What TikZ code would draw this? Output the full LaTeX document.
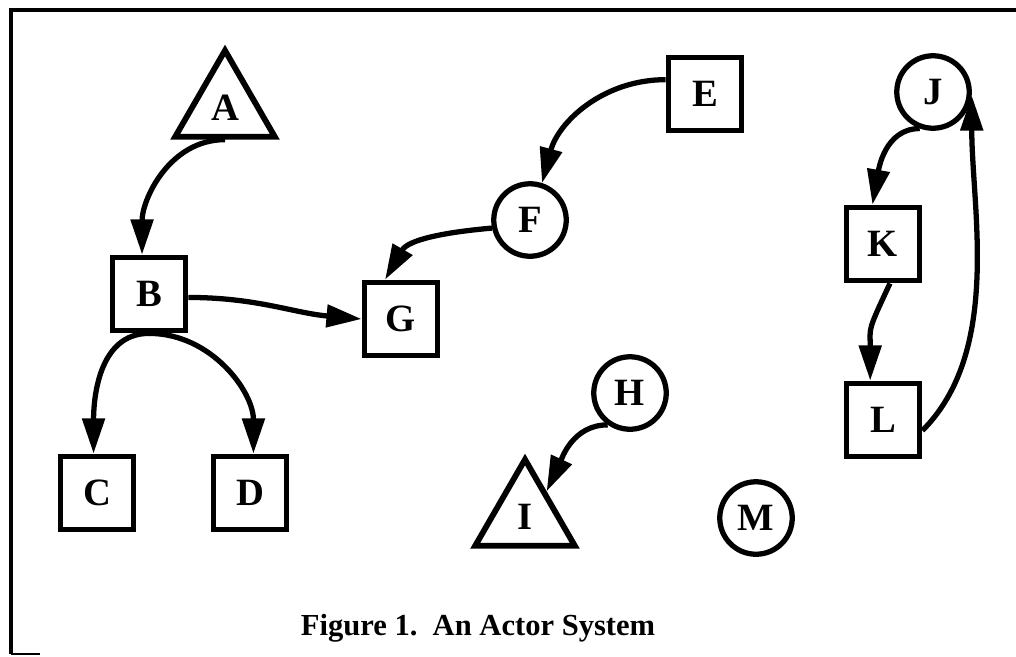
\documentclass[tikz,border=0pt]{standalone}
\usepackage{fontspec}
\setmainfont{Liberation Serif}
\usetikzlibrary{shapes.geometric,arrows.meta}
\begin{document}
\begin{tikzpicture}[x=0.02cm,y=-0.02cm,
  actor/.style={draw, line width=3.3pt, inner sep=0pt, font=\fontsize{22}{22}\selectfont\bfseries},
  box/.style={actor, rectangle, minimum size=1.46cm},
  ball/.style={actor, circle, minimum size=1.45cm, line width=3pt},
  tri/.style={actor, regular polygon, regular polygon sides=3, minimum size=2.3cm},
  msg/.style={line width=3pt, -{Triangle[length=20pt,width=12.5pt]}}]
\useasboundingbox (0,0) rectangle (1016,656);
\draw[line width=2pt] (11,654) -- (11,10) -- (1016,10);
\draw[line width=1.5pt] (11,654) -- (40,654);
\node[tri] (A) at (225,108){A};
\node[box] (B) at (149,294){B};
\node[box] (C) at (97,493){C};
\node[box] (D) at (250,493){D};
\node[box] (G) at (401,319){G};
\node[box] (E) at (705,94){E};
\node[ball] (F) at (530,220){F};
\node[ball] (J) at (933,92){J};
\node[box] (K) at (883,244){K};
\node[box] (L) at (883,420){L};
\node[ball] (H) at (630,393){H};
\node[tri] (I) at (525,517){I};
\node[ball] (M) at (756,518){M};
\draw[msg](A.south) to[out=180,in=90] (B.100);
\draw[msg](B.south) to[out=180,in=90] (C.95);
\draw[msg](B.south) to[out=0,in=90] (D.85);
\draw[msg](B.-5) to[out=0,in=175] (G.west);
\draw[msg](E.160) to[out=180,in=75] (F.72);
\draw[msg](F.192) to[out=185,in=60] (G.112);
\draw[msg](J.250) to[out=180,in=80] (K.105);
\draw[msg](K.-80) to[out=245,in=90,looseness=1.4] (L.108);
\draw[msg](L.-15) to[out=45,in=-90,looseness=0.85] (J.-5);
\draw[msg](H.235) to[out=180,in=65] (I.50);
\node[font=\fontsize{17.4}{17.4}\selectfont\bfseries] (cap) at (478,628){Figure 1.\ \ An Actor System};
\end{tikzpicture}
\end{document}
